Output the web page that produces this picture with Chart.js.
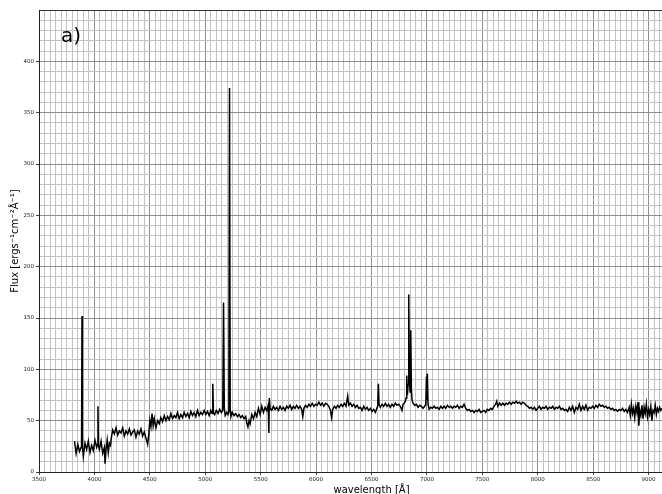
<!DOCTYPE html>
<html>
<head>
<meta charset="utf-8">
<script src="https://cdn.jsdelivr.net/npm/chart.js@4"></script>
<style>
html,body{margin:0;padding:0;overflow:hidden;background:#fff;}
#wrap{position:absolute;left:0;top:0;width:720px;height:500px;}
</style>
</head>
<body>
<div id="wrap"><canvas id="c" width="720" height="500"></canvas></div>
<script>
const wavelength = [
3820,3835,3850,3865,3880,3884,3888,3892,3900,3915,3930,3945,3960,3975,3990,4005,4020,4028,4032,4036,4045,4060,4075,4090,4096,4105,4115,4125,4135,4145,
4155,4165,4180,4195,4210,4225,4240,4255,4270,4285,4300,4315,4330,4345,4360,4375,4390,4405,4420,4435,4450,4465,4480,4490,
4500,4510,4520,4530,4540,4555,4570,4585,4600,4615,4630,4645,4660,4675,4690,4705,4720,4735,4750,4765,4780,4795,4810,4825,4840,4855,4870,4885,4900,4915,4930,4945,4960,4975,4990,5005,5020,5035,5050,5062,5068,5074,5085,5100,5115,5130,5145,5158,5165,5172,5180,5195,5205,5213,5219,5225,5232,5245,5260,5275,5290,5305,5320,5335,5350,5365,5375,5385,5395,5405,5420,5435,5450,5465,5480,5495,5510,5525,5540,5555,5568,5574,5578,5585,
5600,5615,5630,5645,5660,5675,5690,5705,5720,5735,5750,5765,5780,5795,5810,5825,5840,5855,5870,5880,5890,5905,5920,5935,5950,5965,5980,5995,6010,6025,6040,6055,6070,6085,6100,6115,6130,6140,6150,6165,6180,6195,6210,6225,6240,6255,6270,6285,6295,6310,6325,6340,6355,6370,6385,6400,6415,6430,6445,6460,6475,6490,6505,6520,6535,6548,6556,6562,6568,6580,6595,6610,6625,6640,6655,6670,6685,6700,6715,6730,6745,6760,6775,6785,6795,6805,6812,6818,6824,6830,6836,6842,6848,6854,6860,6866,6875,6890,6905,6920,6935,6950,6965,6980,6990,6996,7000,7004,7010,7020,7035,7050,7065,7080,7095,7110,7125,7140,7155,7170,7185,7200,7215,7230,7245,7260,7275,7290,7305,7320,7335,7350,7365,7380,7395,7410,7425,7440,7455,7470,7485,7500,7515,7530,7545,7560,7575,7590,7605,7620,7630,7640,7655,7670,7685,7700,7715,7730,7745,7760,7775,7790,7805,7820,7835,7850,7865,7880,7895,7910,7925,7940,7955,7970,7985,
8000,8015,8030,8045,8060,8075,8090,8105,8120,8135,8150,8165,8180,8195,8210,8225,8240,8255,8270,8285,8300,8315,8330,8345,8360,8375,8390,8405,8420,8435,8450,8465,8480,8495,8510,8525,8540,8555,8570,8585,8600,8615,8630,8645,8660,8675,8690,8705,8720,8735,8750,8765,8780,8795,8810,8825,8835,8845,8855,8865,8875,8885,8895,8905,8912,8920,8930,8940,8950,8960,8970,8980,8990,9000,9010,9020,9030,9040,9050,9060,9070,9080,9090,9100,9110,9120
];
const flux = [
30,18,27,20,24,26,152,25,15,28,22,30,19,26,21,31,24,27,64,26,22,30,18,24,8,22,31,19,28,26,
35,41,37,43,36,40,38,43,35,40,37,42,36,39,41,34,40,37,42,35,39,33,27,36,
50,44,57,45,52,43,50,47,53,49,55,50,54,51,57,52,55,53,58,52,56,53,58,54,57,53,59,55,58,54,60,55,58,56,60,56,59,55,60,57,86,58,56,60,57,61,58,60,165,62,55,58,56,60,374,59,54,58,55,57,54,56,53,55,52,54,48,44,50,47,56,52,58,54,62,56,64,58,63,60,65,38,72,62,
60,64,61,63,60,64,61,63,60,64,62,65,61,64,62,65,62,64,61,54,62,65,63,66,64,67,64,66,65,68,65,67,64,67,66,64,60,53,61,64,62,65,63,66,64,67,64,74,65,67,64,66,63,65,62,63,60,64,61,63,60,62,59,61,58,62,64,86,66,63,66,64,67,64,66,63,66,64,67,65,66,64,60,66,67,69,72,94,75,85,173,90,78,138,80,70,67,65,66,63,65,64,62,64,66,93,70,96,66,61,63,62,64,62,63,61,64,62,64,62,65,63,64,62,64,63,65,62,64,63,66,62,60,61,59,60,58,60,59,61,58,59,60,58,61,60,62,61,64,66,69,64,67,65,67,65,67,66,68,66,68,67,69,67,68,66,68,67,65,64,62,63,61,63,60,
62,64,61,63,62,64,61,63,62,64,61,63,62,64,61,62,60,61,59,63,60,64,58,63,61,66,60,64,61,65,60,63,62,64,62,65,63,66,64,65,63,64,62,63,61,62,60,61,59,61,60,62,59,61,58,63,55,66,57,62,53,64,58,68,45,60,55,65,52,63,57,66,54,61,56,64,50,60,58,65,56,62,59,63,60,62
];
const xTickStep = 50, xMajor = 500;
const yTickStep = 10, yMajor = 50;
const xMin = 3500, xMax = 9500, yMin = 0, yMax = 450;

const points = wavelength.map((w, i) => ({x: w, y: flux[i]}));

const panelLabel = {
  id: 'panelLabel',
  afterDraw(chart) {
    const ctx = chart.ctx;
    ctx.save();
    ctx.font = '20px "DejaVu Sans"';
    ctx.fillStyle = '#000';
    ctx.textBaseline = 'alphabetic';
    ctx.fillText('a)', 61, 42);
    ctx.restore();
  }
};

new Chart(document.getElementById('c'), {
  type: 'line',
  data: { datasets: [{ data: points, borderColor: '#000', borderWidth: 1.5, pointRadius: 0, tension: 0, fill: false }] },
  options: {
    responsive: false,
    animation: false,
    parsing: true,
    layout: { padding: { top: 10, right: 16, left: 0, bottom: 0 } },
    plugins: { legend: { display: false }, tooltip: { enabled: false } },
    scales: {
      x: {
        type: 'linear', min: xMin, max: xMax,
        afterFit(s) { s.height = 28; },
        border: { display: true, color: '#222', width: 1 },
        grid: {
          color: c => (c.tick && c.tick.value % xMajor === 0) ? '#8e8e8e' : '#c2c2c2',
          lineWidth: 1,
          tickLength: 3,
          tickColor: c => (c.tick && c.tick.value % xMajor === 0) ? '#444' : 'rgba(0,0,0,0)'
        },
        ticks: {
          stepSize: xTickStep, autoSkip: false, maxRotation: 0, padding: 1,
          font: { family: 'DejaVu Sans', size: 5.5 }, color: '#222',
          callback: v => (v % xMajor === 0 && v < 9500) ? String(v) : ''
        },
        title: { display: true, text: 'wavelength [Å]', font: { family: 'DejaVu Sans', size: 10 }, color: '#000', padding: { top: 0, bottom: 4 } }
      },
      y: {
        type: 'linear', min: yMin, max: yMax,
        afterFit(s) { s.width = 39; },
        border: { display: true, color: '#222', width: 1 },
        grid: {
          color: c => (c.tick && c.tick.value === yMax) ? '#333' : ((c.tick && c.tick.value % yMajor === 0) ? '#8e8e8e' : '#c2c2c2'),
          lineWidth: 1,
          tickLength: 3,
          tickColor: c => (c.tick && c.tick.value % yMajor === 0 && c.tick.value !== yMax) ? '#444' : 'rgba(0,0,0,0)'
        },
        ticks: {
          stepSize: yTickStep, autoSkip: false, padding: 2,
          font: { family: 'DejaVu Sans', size: 5.5 }, color: '#222',
          callback: v => (v % yMajor === 0 && v !== yMax) ? String(v) : ''
        },
        title: { display: true, text: 'Flux [ergs⁻¹cm⁻²Å⁻¹]', font: { family: 'DejaVu Sans', size: 10 }, color: '#000', padding: { top: 9, bottom: 0 } }
      }
    }
  },
  plugins: [panelLabel]
});
</script>
</body>
</html>
